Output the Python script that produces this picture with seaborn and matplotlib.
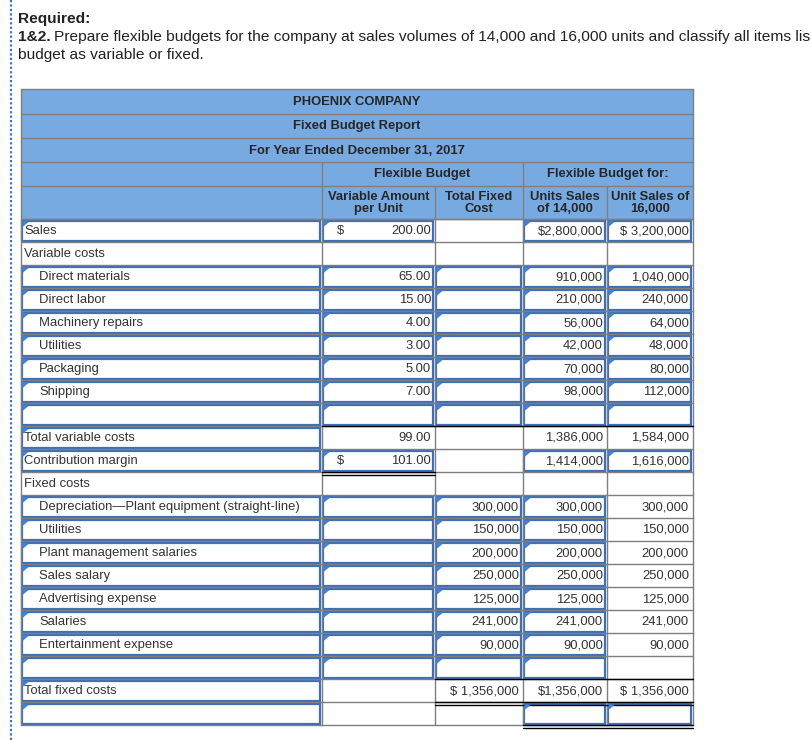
import matplotlib
matplotlib.use("Agg")
import matplotlib.pyplot as plt
from matplotlib.patches import Rectangle, Polygon
import seaborn as sns

# ---- data ----
sales_per_unit = 200.00
sales_14k = 2800000
sales_16k = 3200000

var_items = ["Direct materials", "Direct labor", "Machinery repairs",
             "Utilities", "Packaging", "Shipping"]
var_per_unit = [65.00, 15.00, 4.00, 3.00, 5.00, 7.00]
var_14k = [910000, 210000, 56000, 42000, 70000, 98000]
var_16k = [1040000, 240000, 64000, 48000, 80000, 112000]

total_var = [99.00, 1386000, 1584000]
contribution = [101.00, 1414000, 1616000]

fixed_items = ["Depreciation\u2014Plant equipment (straight-line)", "Utilities",
               "Plant management salaries", "Sales salary", "Advertising expense",
               "Salaries", "Entertainment expense"]
fixed_total = [300000, 150000, 200000, 250000, 125000, 241000, 90000]
fixed_14k = [300000, 150000, 200000, 250000, 125000, 241000, 90000]
fixed_16k = [300000, 150000, 200000, 250000, 125000, 241000, 90000]
total_fixed = [1356000, 1356000, 1356000]

title_lines = ["PHOENIX COMPANY", "Fixed Budget Report",
               "For Year Ended December 31, 2017"]
group_headers = ["Flexible Budget", "Flexible Budget for:"]
col_headers = ["Variable Amount\nper Unit", "Total Fixed\nCost",
               "Units Sales\nof 14,000", "Unit Sales of\n16,000"]

# ---- build the table rows: (label, indent, [c1, c2, c3, c4], input cols) ----
rows = []
rows.append(("Sales", False,
             [f"{sales_per_unit:.2f}", "", f"${sales_14k:,}", f"$ {sales_16k:,}"],
             [0, 1, 3, 4]))
rows.append(("Variable costs", False, ["", "", "", ""], []))
for name, pu, a, b in zip(var_items, var_per_unit, var_14k, var_16k):
    rows.append((name, True, [f"{pu:.2f}", "", f"{a:,}", f"{b:,}"], [0, 1, 2, 3, 4]))
rows.append(("", True, ["", "", "", ""], [0, 1, 2, 3, 4]))
rows.append(("Total variable costs", False,
             [f"{total_var[0]:.2f}", "", f"{total_var[1]:,}", f"{total_var[2]:,}"], [0]))
rows.append(("Contribution margin", False,
             [f"{contribution[0]:.2f}", "", f"{contribution[1]:,}", f"{contribution[2]:,}"],
             [0, 1, 3, 4]))
rows.append(("Fixed costs", False, ["", "", "", ""], []))
for name, t, a, b in zip(fixed_items, fixed_total, fixed_14k, fixed_16k):
    rows.append((name, True, ["", f"{t:,}", f"{a:,}", f"{b:,}"], [0, 1, 2, 3]))
rows.append(("", True, ["", "", "", ""], [0, 1, 2, 3]))
rows.append(("Total fixed costs", False,
             ["", f"$ {total_fixed[0]:,}", f"${total_fixed[1]:,}", f"$ {total_fixed[2]:,}"],
             [0]))
rows.append(("", False, ["", "", "", ""], [0, 3, 4]))

dollar_rows = [0, 10]          # "$" sign at left of the per-unit cell
# (row, first col, last col, "top"/"bottom", single/double)
rules = [(9, 1, 4, "top", 1), (10, 1, 1, "bottom", 2), (19, 2, 4, "bottom", 1),
         (20, 2, 4, "bottom", 2), (21, 3, 4, "bottom", 2)]

# ---- layout (pixels) ----
col_x = [21, 322, 435, 523, 607, 693]
head_y = [89, 114, 138, 162, 186, 219]
row_h = 23
body_y = [head_y[-1] + i * row_h for i in range(len(rows) + 1)]

header_blue = "#78aae2"
grid_gray = "#7f7f7f"
input_blue = "#3f70b6"
flag_blue = "#3f82dc"
txt = "#333333"
head_txt = "#262626"
fs = 9.4

sns.set_theme(style="white")
plt.rcParams["font.family"] = ["Liberation Sans", "DejaVu Sans"]

fig = plt.figure(figsize=(8.12, 7.40), dpi=100)
ax = fig.add_axes([0, 0, 1, 1])
ax.set_xlim(0, 812)
ax.set_ylim(740, 0)
ax.axis("off")

# dotted margin line
ax.plot([11, 11], [0, 740], color="#3a74c0", lw=1.6, ls=(0, (1, 1)))

# instructions
top_fs = 11.15
ax.text(18, 19, "Required:", fontsize=top_fs, fontweight="bold", color="#222222",
        va="center", ha="left")
t1 = ax.text(18, 37, "1&2.", fontsize=top_fs, fontweight="bold", color="#222222",
             va="center", ha="left")
fig.canvas.draw()
bb = t1.get_window_extent(renderer=fig.canvas.get_renderer())
x_after = ax.transData.inverted().transform((bb.x1, 0))[0]
ax.text(x_after + 3, 37,
        "Prepare flexible budgets for the company at sales volumes of 14,000 and "
        "16,000 units and classify all items lis",
        fontsize=top_fs, color="#222222", va="center", ha="left")
ax.text(18, 55, "budget as variable or fixed.", fontsize=top_fs, color="#222222",
        va="center", ha="left")

# header fill
ax.add_patch(Rectangle((col_x[0], head_y[0]), col_x[-1] - col_x[0],
                       head_y[-1] - head_y[0], facecolor=header_blue, edgecolor="none"))

# grid lines
lw_grid = 1.0
for y in head_y + body_y:
    ax.plot([col_x[0], col_x[-1]], [y, y], color=grid_gray, lw=lw_grid)
for x in (col_x[0], col_x[-1]):
    ax.plot([x, x], [head_y[0], body_y[-1]], color=grid_gray, lw=lw_grid)
for x in (col_x[1], col_x[3]):
    ax.plot([x, x], [head_y[3], body_y[-1]], color=grid_gray, lw=lw_grid)
for x in (col_x[2], col_x[4]):
    ax.plot([x, x], [head_y[4], body_y[-1]], color=grid_gray, lw=lw_grid)

# header text
cx = (col_x[0] + col_x[-1]) / 2
for i, s in enumerate(title_lines):
    ax.text(cx, (head_y[i] + head_y[i + 1]) / 2 + 0.5, s, fontsize=fs, color=head_txt,
            ha="center", va="center", fontweight="semibold")
ax.text((col_x[1] + col_x[3]) / 2, (head_y[3] + head_y[4]) / 2 + 0.5, group_headers[0],
        fontsize=fs, color=head_txt, ha="center", va="center", fontweight="semibold")
ax.text((col_x[3] + col_x[5]) / 2, (head_y[3] + head_y[4]) / 2 + 0.5, group_headers[1],
        fontsize=fs, color=head_txt, ha="center", va="center", fontweight="semibold")
for j, s in enumerate(col_headers):
    ax.text((col_x[j + 1] + col_x[j + 2]) / 2, (head_y[4] + head_y[5]) / 2 + 0.5, s,
            fontsize=fs, color=head_txt, ha="center", va="center", linespacing=1.0,
            fontweight="semibold")

# body
for r, (label, indent, vals, inputs) in enumerate(rows):
    y0, y1 = body_y[r], body_y[r + 1]
    ym = (y0 + y1) / 2 + 0.5
    for c in inputs:
        x0, x1 = col_x[c], col_x[c + 1]
        ax.add_patch(Rectangle((x0 + 1.5, y0 + 1.5), x1 - x0 - 3, y1 - y0 - 3,
                               fill=False, edgecolor=input_blue, lw=1.6))
        ax.add_patch(Polygon([(x0 + 1.5, y0 + 1.5), (x0 + 1.5, y0 + 8),
                              (x0 + 7.5, y0 + 3)], closed=True,
                             facecolor=flag_blue, edgecolor="none", zorder=5))
    if label:
        ax.text(col_x[0] + (18 if indent else 3), ym, label, fontsize=fs, color=txt,
                ha="left", va="center")
    for c, v in enumerate(vals):
        if v:
            ax.text(col_x[c + 2] - 4, ym, v, fontsize=fs, color=txt,
                    ha="right", va="center")
    if r in dollar_rows:
        ax.text(col_x[1] + 15, ym, "$", fontsize=fs, color=txt, ha="left", va="center")

# accounting rules
for r, c0, c1, where, n in rules:
    y = body_y[r] if where == "top" else body_y[r + 1]
    ax.plot([col_x[c0], col_x[c1 + 1]], [y, y], color="black", lw=1.0)
    if n == 2:
        ax.plot([col_x[c0], col_x[c1 + 1]], [y + 2.5, y + 2.5], color="black", lw=1.0)

fig.savefig("out.png", dpi=100)
